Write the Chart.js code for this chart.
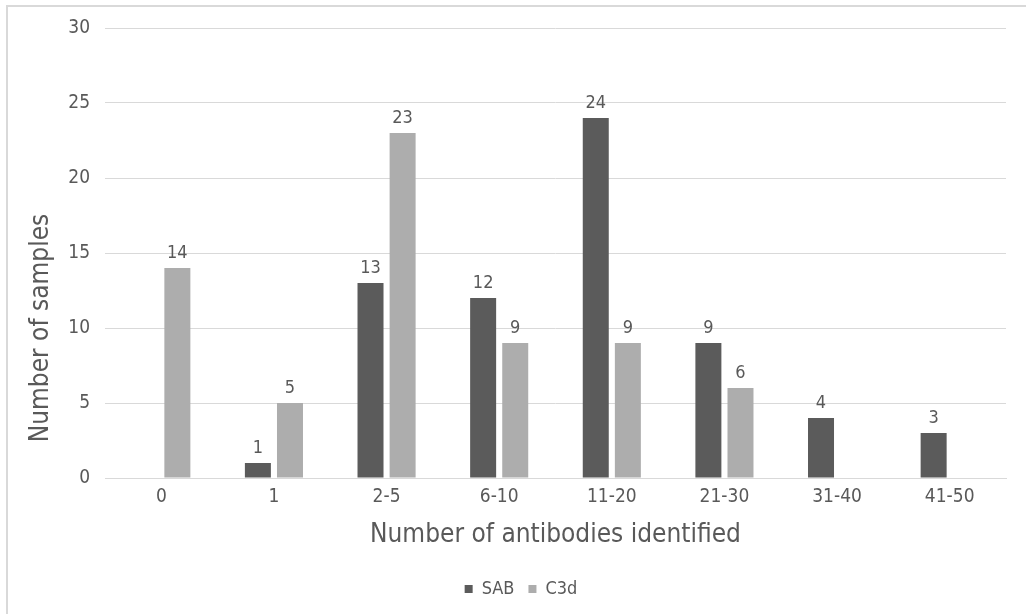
<!DOCTYPE html>
<html>
<head>
<meta charset="utf-8">
<script src="https://cdn.jsdelivr.net/npm/chart.js@4/dist/chart.umd.min.js"></script>
<style>
  html, body { margin: 0; padding: 0; background: #ffffff; }
  #wrap { position: relative; width: 1026px; height: 614px; overflow: hidden; }
  #frame { position: absolute; left: 6px; top: 5px; width: 1100px; height: 700px;
           border-left: 2px solid #d9d9d9; border-top: 2px solid #d9d9d9; pointer-events: none; }
  canvas { position: absolute; left: 0; top: 0; }
</style>
</head>
<body>
<div id="wrap">
  <canvas id="chart" width="1026" height="614"></canvas>
  <div id="frame"></div>
</div>
<script>
const categories = ['0', '1', '2-5', '6-10', '11-20', '21-30', '31-40', '41-50'];
const sabValues = [0, 1, 13, 12, 24, 9, 4, 3];
const c3dValues = [14, 5, 23, 9, 9, 6, 0, 0];
const yTicks = [0, 5, 10, 15, 20, 25, 30];
const xTitle = 'Number of antibodies identified';
const yTitle = 'Number of samples';

const FONT = "'Liberation Sans Narrow', 'DejaVu Sans Condensed', 'Liberation Sans', sans-serif";
const TEXT = '#595959';

// Value labels above each non-zero bar
const barLabels = {
  id: 'barLabels',
  afterDatasetsDraw(chart) {
    const ctx = chart.ctx;
    ctx.save();
    ctx.font = '18px ' + FONT;
    ctx.fillStyle = TEXT;
    ctx.textAlign = 'center';
    ctx.textBaseline = 'bottom';
    chart.data.datasets.forEach((ds, i) => {
      chart.getDatasetMeta(i).data.forEach((bar, j) => {
        const v = ds.data[j];
        if (v > 0) ctx.fillText(String(v), bar.x, bar.y - 6);
      });
    });
    ctx.restore();
  }
};

// Vertical axis title, drawn in the left margin
const yAxisTitle = {
  id: 'yAxisTitle',
  afterDraw(chart) {
    const ctx = chart.ctx;
    ctx.save();
    ctx.translate(41, 328);
    ctx.rotate(-Math.PI / 2);
    ctx.font = '26px ' + FONT;
    ctx.fillStyle = TEXT;
    ctx.textAlign = 'center';
    ctx.textBaseline = 'middle';
    ctx.fillText(yTitle, 0, 0);
    ctx.restore();
  }
};

// Centre the legend under the plot area rather than the whole canvas
const legendShift = {
  id: 'legendShift',
  afterLayout(chart) {
    const lg = chart.legend;
    if (!lg) return;
    lg.left += 18;
    lg.right += 18;
  }
};

new Chart(document.getElementById('chart'), {
  type: 'bar',
  data: {
    labels: categories,
    datasets: [
      { label: 'SAB', data: sabValues, backgroundColor: '#5b5b5b',
        categoryPercentage: 0.57, barPercentage: 0.81 },
      { label: 'C3d', data: c3dValues, backgroundColor: '#adadad',
        categoryPercentage: 0.57, barPercentage: 0.81 }
    ]
  },
  plugins: [barLabels, yAxisTitle, legendShift],
  options: {
    responsive: false,
    animation: false,
    layout: { padding: { top: 28, right: 20, left: 0, bottom: 6 } },
    scales: {
      x: {
        grid: { display: false, drawTicks: false },
        border: { display: true, color: '#d9d9d9', width: 1 },
        ticks: { color: TEXT, font: { family: FONT, size: 19 }, padding: 8 },
        title: { display: true, text: xTitle, color: TEXT,
                 font: { family: FONT, size: 26 }, padding: { top: 4, bottom: 15 } },
        afterFit(scale) { scale.height = 88; }
      },
      y: {
        min: 0, max: 30,
        afterBuildTicks(scale) { scale.ticks = yTicks.map(v => ({ value: v })); },
        grid: { color: '#d9d9d9', lineWidth: 1, drawTicks: false },
        border: { display: false },
        ticks: { color: TEXT, font: { family: FONT, size: 19 }, padding: 15 },
        afterFit(scale) { scale.width = 105; }
      }
    },
    plugins: {
      legend: {
        position: 'bottom',
        labels: { color: TEXT, font: { family: FONT, size: 18 },
                  boxWidth: 8, boxHeight: 8, padding: 14 }
      },
      tooltip: { enabled: false }
    }
  }
});
</script>
</body>
</html>
